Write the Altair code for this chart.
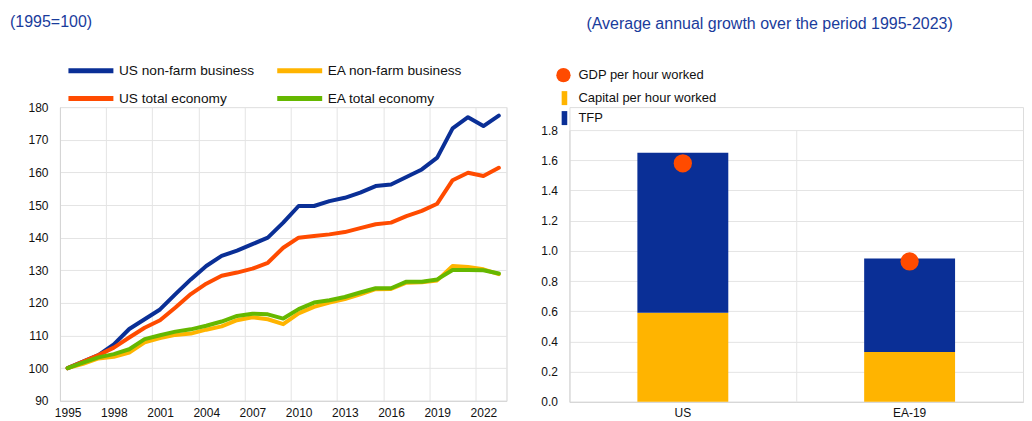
import altair as alt
import pandas as pd

FONT = "Liberation Sans"

# ---------------- left panel data ----------------
years = list(range(1995, 2024))
us_nonfarm = [100, 102, 104, 107.3, 112, 115, 118, 122.7, 127.2, 131.3, 134.4, 136, 138, 140,
              144.6, 149.7, 149.7, 151.2, 152.2, 153.8, 155.8, 156.3, 158.6, 160.9, 164.5,
              173.5, 176.9, 174.2, 177.4]
ea_nonfarm = [100, 101.3, 103, 103.5, 104.8, 107.9, 109.2, 110.2, 110.6, 111.8, 112.8, 114.7,
              115.6, 115, 113.5, 116.8, 118.8, 120.1, 121.2, 122.6, 124.2, 124.3, 126.2, 126.3,
              126.9, 131.3, 131, 130.3, 128.8]
us_total = [100, 102, 104, 106.3, 109.4, 112.4, 114.7, 118.6, 122.7, 125.9, 128.3, 129.3, 130.5,
            132.3, 136.9, 140, 140.5, 141, 141.7, 142.9, 144.1, 144.6, 146.6, 148.2, 150.4,
            157.6, 159.9, 158.9, 161.4]
ea_total = [100, 101.7, 103.3, 104.3, 105.8, 108.9, 110.1, 111.2, 111.9, 113, 114.3, 116, 116.7,
            116.5, 115.2, 118.1, 120.1, 120.8, 121.8, 123.2, 124.5, 124.5, 126.5, 126.5, 127.2,
            130.1, 130.1, 130, 129]
series_names = ["US non-farm business", "EA non-farm business", "US total economy", "EA total economy"]
series_colors = ["#0a2f96", "#ffb400", "#ff4b00", "#65b800"]
label_years = [1995, 1998, 2001, 2004, 2007, 2010, 2013, 2016, 2019, 2022]
y_ticks_left = [90, 100, 110, 120, 130, 140, 150, 160, 170, 180]

# ---------------- right panel data ----------------
countries = ["US", "EA-19"]
capital = [0.59, 0.33]
tfp = [1.06, 0.62]
gdp = [1.58, 0.93]
components = ["Capital per hour worked", "TFP"]
component_colors = ["#ffb400", "#0a2f96"]
gdp_label = "GDP per hour worked"
y_ticks_right = [0.0, 0.2, 0.4, 0.6, 0.8, 1.0, 1.2, 1.4, 1.6, 1.8]

# ---------------- tables ----------------
rows = []
for name, vals in zip(series_names, [us_nonfarm, ea_nonfarm, us_total, ea_total]):
    for yr, v in zip(years, vals):
        rows.append({"year": yr, "value": v, "series": name})
ldf = pd.DataFrame(rows)

brows = []
for i, c in enumerate(countries):
    brows.append({"country": c, "component": components[0], "value": capital[i], "ord": 0})
    brows.append({"country": c, "component": components[1], "value": tfp[i], "ord": 1})
bdf = pd.DataFrame(brows)
pdf = pd.DataFrame({"country": countries, "value": gdp, "label": [gdp_label] * len(countries)})

grid_pos = [y - 0.5 for y in label_years] + [years[-1] + 0.5]
x_vals = sorted(label_years + grid_pos)

GRID = "#e4e4e4"
DOMAIN = "#d4d4d4"

left = alt.Chart(ldf).mark_line(strokeWidth=4, strokeJoin="round", strokeCap="round").encode(
    x=alt.X("year:Q", title=None,
            scale=alt.Scale(domain=[years[0] - 0.5, years[-1] + 0.5], nice=False, zero=False),
            axis=alt.Axis(values=x_vals, format="d", ticks=False, labelOverlap=False,
                          labelExpr="datum.value % 1 === 0 ? datum.label : ''",
                          grid=True,
                          gridColor={"condition": {"test": "datum.value % 1 !== 0", "value": GRID},
                                     "value": "transparent"},
                          labelPadding=7, labelFontSize=12, labelColor="#111", labelFont=FONT,
                          domainColor=DOMAIN)),
    y=alt.Y("value:Q", title=None,
            scale=alt.Scale(domain=[90, 180], nice=False, zero=False),
            axis=alt.Axis(values=y_ticks_left, ticks=False, gridColor=GRID, labelPadding=12,
                          labelOverlap=False,
                          labelFontSize=12, labelColor="#111", labelFont=FONT,
                          domainColor=DOMAIN)),
    color=alt.Color("series:N",
                    scale=alt.Scale(domain=series_names, range=series_colors),
                    legend=alt.Legend(title=None, orient="none", legendX=21, legendY=-46.5,
                                      columns=2, direction="horizontal",
                                      symbolType="M-3,0H3", symbolSize=225,
                                      symbolStrokeWidth=5, labelOffset=18,
                                      columnPadding=12, rowPadding=8, padding=0,
                                      labelFontSize=13.7, labelFont=FONT, labelColor="#111",
                                      labelLimit=300)),
    detail="series:N",
).properties(
    width=447, height=294,
    title=alt.TitleParams(text="(1995=100)", anchor="start", frame="group", dx=-50, offset=31,
                          fontSize=16, font=FONT, fontWeight="normal", color="#1a3c9c"),
)

RH = 295      # right view height (aligned with left view top)
RTOP = 23     # gap between view top and the 1.8 line

bars = alt.Chart(bdf).mark_bar(size=91).encode(
    x=alt.X("country:N", sort=countries, title=None,
            scale=alt.Scale(paddingInner=0, paddingOuter=0),
            axis=alt.Axis(labelAngle=0, ticks=False, grid=False, labelPadding=6,
                          labelFontSize=12, labelColor="#111", labelFont=FONT,
                          domainColor=DOMAIN)),
    y=alt.Y("value:Q", stack="zero", title=None,
            scale=alt.Scale(domain=[0, 1.8], nice=False, range=[RH, RTOP]),
            axis=alt.Axis(orient="left", values=y_ticks_right, format=".1f", ticks=False,
                          gridColor=GRID, labelOverlap=False,
                          labelPadding=12, labelFontSize=12, labelColor="#111",
                          labelFont=FONT, domainColor=DOMAIN)),
    color=alt.Color("component:N",
                    scale=alt.Scale(domain=components, range=component_colors),
                    legend=alt.Legend(title=None, orient="none", legendX=-13, legendY=-17,
                                      symbolType="M-0.4,-1H0.4V1H-0.4Z", symbolSize=196,
                                      labelOffset=6, rowPadding=5, padding=0,
                                      labelFontSize=13, labelFont=FONT, labelColor="#111",
                                      symbolOpacity=1, labelLimit=300)),
    order=alt.Order("ord:Q"),
)

points = alt.Chart(pdf).mark_circle(size=335, opacity=1).encode(
    x=alt.X("country:N", sort=countries),
    # second y axis: only its domain line, used as the divider between the two countries
    y=alt.Y("value:Q",
            axis=alt.Axis(orient="right", offset=-227, labels=False, ticks=False, grid=False,
                          domainColor=GRID, title=None)),
    fill=alt.Fill("label:N", scale=alt.Scale(domain=[gdp_label], range=["#ff4b00"]),
                  legend=alt.Legend(title=None, orient="none", legendX=-14, legendY=-40,
                                    symbolType="circle", symbolSize=205, labelOffset=7,
                                    padding=0, labelFontSize=13, labelFont=FONT,
                                    labelColor="#111", symbolOpacity=1, labelLimit=300)),
)

right = alt.layer(bars, points).resolve_axis(y="independent").properties(
    width=454, height=RH,
    title=alt.TitleParams(text="(Average annual growth over the period 1995-2023)",
                          anchor="start", frame="group", dx=17, offset=35,
                          fontSize=16, font=FONT, fontWeight="normal", color="#1a3c9c"),
)

chart = alt.hconcat(left, right, spacing=32).resolve_scale(
    color="independent", fill="independent"
).properties(
    padding={"left": 1, "top": 5, "right": 0, "bottom": 0}
).configure_view(stroke=None).configure(background="white")

chart.save("out.html", embed_options={"renderer": "svg", "actions": False})
